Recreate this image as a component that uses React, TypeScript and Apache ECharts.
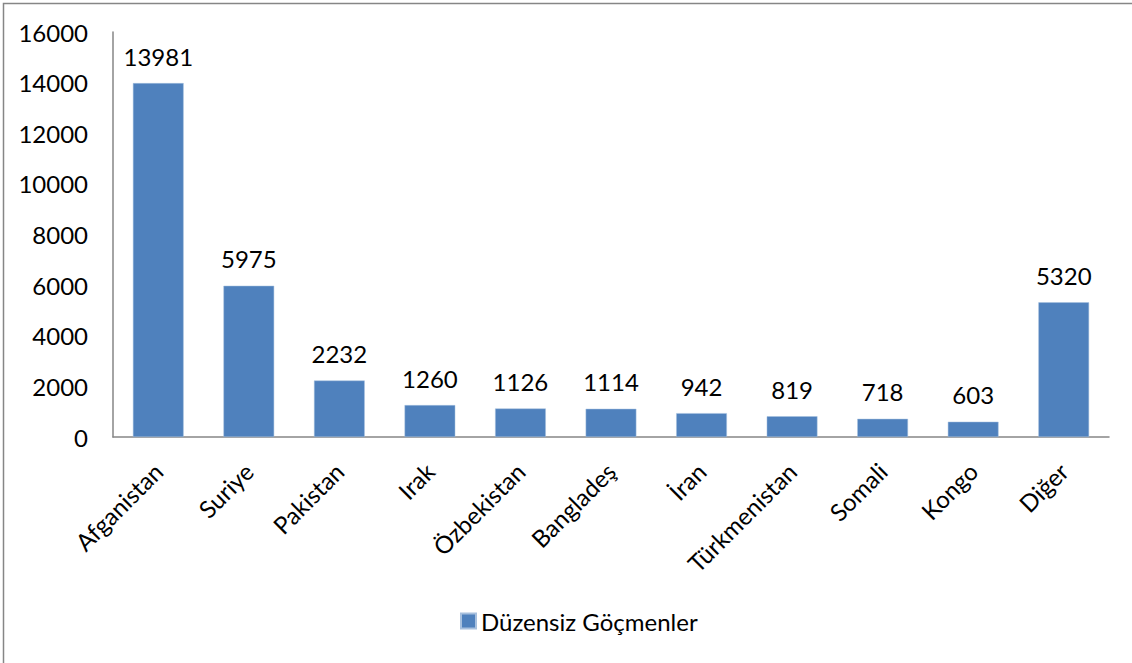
import React, { useEffect, useRef } from "react";
import * as echarts from "echarts";

const countries = [
  "Afganistan",
  "Suriye",
  "Pakistan",
  "Irak",
  "Özbekistan",
  "Bangladeş",
  "İran",
  "Türkmenistan",
  "Somali",
  "Kongo",
  "Diğer",
];
const migrants = [13981, 5975, 2232, 1260, 1126, 1114, 942, 819, 718, 603, 5320];
const seriesName = "Düzensiz Göçmenler";

const FONT = "Lato, 'Open Sans', sans-serif";
const BAR = "#4F81BD";
const AXIS = "#868686";
const FS = 24;

export default function App() {
  const ref = useRef<HTMLDivElement>(null);

  useEffect(() => {
    if (!ref.current) return;
    const chart = echarts.init(ref.current, undefined, { renderer: "svg" });
    chart.setOption({
      animation: false,
      backgroundColor: "#ffffff",
      textStyle: { fontFamily: FONT },
      graphic: [
        {
          type: "rect",
          shape: { x: 3.5, y: 3.5, width: 1140, height: 680 },
          style: { fill: "none", stroke: AXIS, lineWidth: 1.5 },
          silent: true,
        },
      ],
      grid: { left: 113, right: 23, top: 32, bottom: 226 },
      legend: {
        bottom: 25,
        left: 455,
        itemWidth: 15,
        itemHeight: 15,
        itemGap: 8,
        icon: "rect",
        textStyle: { fontFamily: FONT, fontSize: FS, color: "#000" },
        data: [seriesName],
      },
      xAxis: {
        type: "category",
        data: countries,
        axisLine: { lineStyle: { color: AXIS, width: 1.5 } },
        axisTick: { show: false },
        axisLabel: {
          rotate: 45,
          interval: 0,
          margin: 30,
          fontFamily: FONT,
          fontSize: FS,
          color: "#000",
        },
      },
      yAxis: {
        type: "value",
        min: 0,
        max: 16000,
        interval: 2000,
        splitLine: { show: false },
        axisLine: { show: true, lineStyle: { color: AXIS, width: 1.5 } },
        axisTick: { show: false },
        axisLabel: {
          margin: 25,
          fontFamily: FONT,
          fontSize: FS,
          color: "#000",
          formatter: (v: number) => String(v),
        },
      },
      series: [
        {
          name: seriesName,
          type: "bar",
          data: migrants,
          barWidth: "56%",
          itemStyle: { color: BAR, borderColor: "#a7c0de", borderWidth: 0.5 },
          label: {
            show: true,
            position: "top",
            distance: 15,
            fontFamily: FONT,
            fontSize: FS,
            color: "#000",
          },
        },
      ],
    });
    return () => chart.dispose();
  }, []);

  return (
    <div
      ref={ref}
      style={{ position: "fixed", left: 0, top: 0, width: 1132, height: 663 }}
    />
  );
}
